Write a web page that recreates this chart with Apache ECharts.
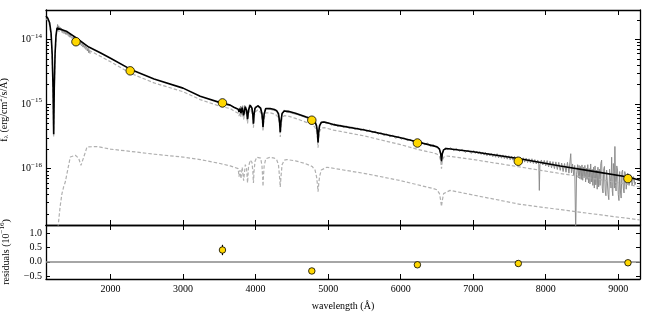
<!DOCTYPE html>
<html>
<head>
<meta charset="utf-8">
<script src="https://cdn.jsdelivr.net/npm/echarts@6/dist/echarts.min.js"></script>
<style>
html, body { margin: 0; padding: 0; background: #fff; }
#chart { width: 650px; height: 321px; }
</style>
</head>
<body>
<div id="chart"></div>
<script>
// wavelength (Angstrom), flux (erg/cm2/s/A)
const specUV = [
  [1262,1.45e-14],[1270,1.7e-14],[1278,1.5e-14],[1286,1.62e-14],[1294,1.42e-14],[1302,1.55e-14],[1310,1.38e-14],
  [1318,1.5e-14],[1326,1.33e-14],[1334,1.45e-14],[1342,1.3e-14],[1350,1.4e-14],[1360,1.25e-14],[1370,1.36e-14],
  [1380,1.2e-14],[1390,1.32e-14],[1400,1.18e-14],[1410,1.28e-14],[1420,1.12e-14],[1430,1.22e-14],[1440,1.08e-14],
  [1450,1.18e-14],[1460,1.05e-14],[1470,1.12e-14],[1480,1.0e-14],[1490,1.08e-14],[1500,9.5e-15],[1510,1.04e-14],
  [1520,9.2e-15],[1530,1.0e-14],[1540,8.8e-15],[1550,9.6e-15],[1560,8.5e-15],[1570,9.2e-15],[1580,8.2e-15],
  [1590,8.9e-15],[1600,7.9e-15],[1610,8.6e-15],[1620,7.6e-15],[1630,8.3e-15],[1640,7.3e-15],[1650,8.0e-15],
  [1660,7.0e-15],[1670,7.6e-15],[1680,6.6e-15],[1690,7.3e-15],[1700,6.2e-15],[1710,6.9e-15],[1718,6.0e-15]
]

const specOpt = [
  [3780,8.8e-16],[3788,7.6e-16],[3795,9.3e-16],[3800,7.0e-16],[3807,8.9e-16],[3815,8.2e-16],[3822,9.4e-16],
  [3830,7.2e-16],[3836,6.6e-16],[3843,8.0e-16],[3850,9.5e-16],[3858,8.6e-16],[3866,9.2e-16],[3875,7.6e-16],
  [3882,6.4e-16],[3889,5.7e-16],[3896,6.6e-16],[3905,8.4e-16],[3915,9.8e-16],[3925,9.2e-16],[3935,9.6e-16],
  [3945,8.6e-16],[3955,7.6e-16],[3963,6.3e-16],[3970,4.9e-16],[3977,6.2e-16],[3986,7.9e-16],[3995,9.1e-16],
  [4010,9.6e-16],[4025,9.1e-16],[4040,9.6e-16],[4055,8.8e-16],[4070,8.8e-16],[4085,7.4e-16],[4095,5.7e-16],
  [4102,4.3e-16],[4110,5.6e-16],[4120,7.3e-16],[4135,8.5e-16],[4150,8.9e-16],[4170,8.3e-16],[4190,8.8e-16],
  [4210,8.2e-16],[4230,8.7e-16],[4250,8.0e-16],[4270,8.4e-16],[4290,7.7e-16],[4305,7.6e-16],[4320,6.6e-16],
  [4330,5.3e-16],[4340,3.7e-16],[4350,5.5e-16],[4360,6.8e-16],[4370,7.2e-16],[4395,8.1e-16],[4420,7.5e-16],
  [4445,8.0e-16],[4470,7.4e-16],[4495,7.8e-16],[4520,7.1e-16],[4545,7.5e-16],[4570,6.9e-16],[4595,7.3e-16],
  [4620,6.6e-16],[4645,6.9e-16],[4670,6.3e-16],[4695,6.6e-16],[4720,6.0e-16],[4745,6.3e-16],[4770,5.7e-16],
  [4795,5.9e-16],[4820,5.1e-16],[4840,4.5e-16],[4852,3.6e-16],[4861,2.6e-16],[4870,3.8e-16],[4882,4.7e-16],
  [4905,5.0e-16],[4930,5.4e-16],[4970,5.0e-16],[5010,5.1e-16],[5050,4.7e-16],[5090,4.95e-16],[5130,4.5e-16],
  [5170,4.7e-16],[5210,4.35e-16],[5250,4.55e-16],[5290,4.2e-16],[5330,4.4e-16],[5370,4.05e-16],[5410,4.25e-16],
  [5450,3.9e-16],[5490,4.1e-16],[5530,3.75e-16],[5570,3.95e-16],[5610,3.6e-16],[5650,3.8e-16],[5690,3.4e-16],
  [5730,3.6e-16],[5770,3.25e-16],[5810,3.45e-16],[5850,3.1e-16],[5890,3.3e-16],[5930,2.95e-16],[5970,3.15e-16],
  [6010,2.85e-16],[6050,3.0e-16],[6090,2.7e-16],[6130,2.85e-16],[6170,2.6e-16],[6210,2.75e-16],[6250,2.5e-16],
  [6290,2.6e-16],[6330,2.35e-16],[6370,2.5e-16],[6410,2.2e-16],[6450,2.35e-16],[6490,2.12e-16],[6520,2.15e-16],
  [6540,1.9e-16],[6552,1.65e-16],[6563,1.25e-16],[6574,1.7e-16],[6590,1.9e-16],[6615,2.1e-16],[6650,1.98e-16],
  [6690,2.1e-16],[6730,1.9e-16],[6770,2.05e-16],[6810,1.85e-16],[6850,1.98e-16],[6890,1.78e-16],[6930,1.92e-16],
  [6970,1.72e-16],[7010,1.9e-16],[7030,1.72e-16],[7050,1.86e-16],[7070,1.7e-16],[7090,1.84e-16],[7110,1.66e-16],
  [7130,1.8e-16],[7150,1.62e-16],[7170,1.78e-16],[7190,1.58e-16],[7210,1.74e-16],[7230,1.57e-16],[7250,1.72e-16],
  [7270,1.53e-16],[7290,1.69e-16],[7310,1.5e-16],[7330,1.7e-16],[7350,1.47e-16],[7370,1.64e-16],[7390,1.45e-16],
  [7410,1.63e-16],[7430,1.43e-16],[7450,1.6e-16],[7470,1.4e-16],[7490,1.58e-16],[7510,1.37e-16],[7530,1.56e-16],
  [7550,1.35e-16],[7570,1.55e-16],[7590,1.33e-16],[7610,1.52e-16],[7630,1.3e-16],[7650,1.5e-16],[7670,1.28e-16],
  [7690,1.47e-16],[7710,1.26e-16],[7730,1.46e-16],[7750,1.24e-16],[7770,1.42e-16],[7790,1.22e-16],[7810,1.42e-16],
  [7830,1.2e-16],[7850,1.38e-16],[7870,1.18e-16],[7890,1.36e-16],[7905,1.15e-16],[7912,4.6e-17],[7920,1.15e-16],
  [7940,1.36e-16],[7960,1.14e-16],[7980,1.34e-16],[8000,1.1e-16],[8020,1.33e-16],[8040,1.06e-16],[8060,1.3e-16],
  [8080,1.03e-16],[8100,1.28e-16],[8120,1.0e-16],[8140,1.27e-16],[8160,9.7e-17],[8180,1.25e-16],[8200,9.4e-17],
  [8220,1.22e-16],[8240,9.0e-17],[8260,1.2e-16],[8280,8.8e-17],[8300,1.25e-16],[8320,8.5e-17],[8335,1.3e-16],
  [8345,1.7e-16],[8355,8.6e-17],[8370,1.18e-16],[8385,8.0e-17],[8400,1.12e-16],[8413,1.0e-17],[8425,8.2e-17],
  [8440,1.15e-16],[8450,7.2e-17],[8460,1.12e-16],[8470,7.0e-17],[8480,1.08e-16],[8490,6.8e-17],[8500,1.14e-16],
  [8510,6.6e-17],[8520,1.05e-16],[8530,7.2e-17],[8540,1.12e-16],[8550,6.2e-17],[8560,1.02e-16],[8570,6.8e-17],
  [8580,1.15e-16],[8590,6.0e-17],[8600,1.0e-16],[8610,5.8e-17],[8620,1.18e-16],[8630,6.2e-17],[8640,9.8e-17],
  [8650,5.5e-17],[8660,1.05e-16],[8670,5.0e-17],[8680,1.1e-16],[8690,5.6e-17],[8700,9.5e-17],[8710,4.8e-17],
  [8720,1.05e-16],[8730,5.2e-17],[8740,9.8e-17],[8750,5.5e-17],[8760,1.2e-16],[8771,1.35e-16],[8780,5.0e-17],
  [8790,4.2e-17],[8800,1.0e-16],[8810,1.08e-16],[8820,4.5e-17],[8830,3.8e-17],[8840,9.5e-17],[8850,9.0e-17],
  [8860,4.0e-17],[8870,3.3e-17],[8880,9.8e-17],[8890,1.05e-16],[8900,5.0e-17],[8909,1.5e-16],[8918,4.5e-17],
  [8925,3.8e-17],[8932,1.2e-16],[8940,9.0e-17],[8947,5.0e-17],[8954,2.2e-16],[8962,5.5e-17],[8970,4.5e-17],
  [8980,1.1e-16],[8990,9.5e-17],[9000,4.0e-17],[9010,3.2e-17],[9020,9.0e-17],[9030,4.5e-17],[9040,3.5e-17],
  [9050,8.8e-17],[9060,9.5e-17],[9070,5.0e-17],[9080,4.2e-17],[9090,9.0e-17],[9100,8.0e-17],[9110,4.8e-17],
  [9120,5.0e-17],[9130,8.5e-17],[9140,7.8e-17],[9150,5.5e-17],[9160,5.2e-17],[9170,8.0e-17],[9180,7.2e-17],
  [9190,5.5e-17],[9200,6.0e-17],[9210,7.5e-17],[9220,6.8e-17],[9230,5.6e-17],[9240,6.2e-17]
]

// total model (black)
const modelTotal = [
  [1110,2.3e-14],[1135,2.12e-14],[1160,1.8e-14],[1180,1.25e-14],[1195,6.0e-15],[1207,1.8e-15],[1216,3.4e-16],
  [1224,1.8e-15],[1235,6.0e-15],[1248,1.15e-14],[1262,1.5e-14],[1278,1.6e-14],[1400,1.32e-14],[1523,1.06e-14],
  [1700,7.6e-15],[1858,6.2e-15],[2000,5.1e-15],[2271,3.46e-15],[2600,2.43e-15],[3000,1.76e-15],[3236,1.32e-15],
  [3511,1.05e-15],[3650,9.6e-16],[3700,8.9e-16],[3760,8.3e-16],[3771,7.5e-16],[3785,8.5e-16],[3798,7.2e-16],
  [3815,8.8e-16],[3835,6.7e-16],[3858,9.1e-16],[3875,8.0e-16],[3889,5.8e-16],[3902,8.0e-16],[3925,9.6e-16],
  [3950,8.6e-16],[3962,6.8e-16],[3970,4.95e-16],[3978,6.8e-16],[3992,8.6e-16],[4030,9.4e-16],[4070,8.6e-16],
  [4088,7.0e-16],[4097,5.5e-16],[4102,4.4e-16],[4108,5.5e-16],[4118,7.0e-16],[4140,8.5e-16],[4200,8.5e-16],
  [4260,8.2e-16],[4290,7.9e-16],[4315,7.1e-16],[4330,5.4e-16],[4340,3.65e-16],[4350,5.4e-16],[4365,7.1e-16],
  [4395,7.8e-16],[4450,7.7e-16],[4550,7.2e-16],[4700,6.3e-16],[4780,5.9e-16],[4820,5.3e-16],[4840,4.6e-16],
  [4852,3.7e-16],[4861,2.55e-16],[4870,3.7e-16],[4882,4.6e-16],[4905,5.2e-16],[4950,5.25e-16],[5073,4.8e-16],
  [5500,3.95e-16],[6000,3.0e-16],[6222,2.6e-16],[6451,2.25e-16],[6500,2.18e-16],[6535,2.0e-16],[6552,1.7e-16],
  [6563,1.3e-16],[6574,1.7e-16],[6592,1.95e-16],[6630,2.05e-16],[7000,1.82e-16],[7622,1.43e-16],[8200,1.1e-16],
  [8700,8.9e-17],[9134,7.4e-17],[9300,6.6e-17]
]

// hot component (upper dashed)
const modelHot = [
  [1110,2.1e-14],[1135,1.95e-14],[1160,1.66e-14],[1180,1.15e-14],[1195,5.5e-15],[1207,1.6e-15],[1216,3.1e-16],
  [1224,1.6e-15],[1235,5.5e-15],[1248,1.05e-14],[1262,1.38e-14],[1278,1.47e-14],[1400,1.2e-14],[1523,9.6e-15],
  [1700,6.8e-15],[1858,5.5e-15],[2000,4.5e-15],[2271,3.0e-15],[2600,2.12e-15],[3000,1.55e-15],[3236,1.17e-15],
  [3511,9.2e-16],[3650,8.5e-16],[3700,7.8e-16],[3760,7.2e-16],[3771,6.5e-16],[3785,7.4e-16],[3798,6.3e-16],
  [3815,7.6e-16],[3835,5.8e-16],[3858,7.9e-16],[3875,7.0e-16],[3889,5.0e-16],[3902,7.0e-16],[3925,8.3e-16],
  [3950,7.5e-16],[3962,5.9e-16],[3970,4.3e-16],[3978,5.9e-16],[3992,7.5e-16],[4030,8.1e-16],[4070,7.4e-16],
  [4088,6.0e-16],[4097,4.7e-16],[4102,3.8e-16],[4108,4.7e-16],[4118,6.0e-16],[4140,7.3e-16],[4200,7.3e-16],
  [4260,7.0e-16],[4290,6.7e-16],[4315,6.0e-16],[4330,4.6e-16],[4340,3.1e-16],[4350,4.6e-16],[4365,6.0e-16],
  [4395,6.6e-16],[4450,6.5e-16],[4550,6.0e-16],[4700,5.2e-16],[4780,4.85e-16],[4820,4.35e-16],[4840,3.75e-16],
  [4852,3.0e-16],[4861,2.1e-16],[4870,3.0e-16],[4882,3.75e-16],[4905,4.25e-16],[4950,4.3e-16],[5073,3.95e-16],
  [5500,3.2e-16],[6000,2.35e-16],[6222,2.0e-16],[6451,1.75e-16],[6500,1.68e-16],[6535,1.53e-16],[6552,1.3e-16],
  [6563,1.0e-16],[6574,1.3e-16],[6592,1.5e-16],[6630,1.57e-16],[7000,1.38e-16],[7622,1.07e-16],[8200,8.4e-17],
  [8700,6.9e-17],[9134,5.7e-17],[9300,5.2e-17]
]

// cool component (lower dashed)
const modelCool = [
  [1268,1.0e-17],[1283,1.5e-17],[1305,2.6e-17],[1330,4.1e-17],[1355,5.3e-17],[1376,6.2e-17],[1408,9.4e-17],
  [1445,1.51e-16],[1514,1.61e-16],[1560,1.45e-16],[1592,1.12e-16],[1630,1.5e-16],[1675,2.16e-16],[1813,2.2e-16],
  [2000,2.0e-16],[2271,1.85e-16],[2600,1.67e-16],[3000,1.51e-16],[3236,1.38e-16],[3511,1.2e-16],[3650,1.1e-16],
  [3760,1.0e-16],[3771,7.5e-17],[3785,9.5e-17],[3798,7.0e-17],[3815,1.05e-16],[3835,6.5e-17],[3858,1.15e-16],
  [3875,1.0e-16],[3889,6.0e-17],[3902,1.05e-16],[3925,1.35e-16],[3950,1.25e-16],[3962,9.0e-17],[3970,6.0e-17],
  [3978,9.0e-17],[3992,1.3e-16],[4017,1.5e-16],[4070,1.45e-16],[4088,1.1e-16],[4097,7.5e-17],[4102,5.3e-17],
  [4108,7.5e-17],[4118,1.1e-16],[4140,1.42e-16],[4200,1.5e-16],[4260,1.45e-16],[4290,1.38e-16],[4315,1.15e-16],
  [4330,7.5e-17],[4340,5.2e-17],[4350,7.5e-17],[4365,1.15e-16],[4395,1.35e-16],[4430,1.38e-16],[4550,1.32e-16],
  [4680,1.2e-16],[4780,1.08e-16],[4820,9.5e-17],[4840,7.5e-17],[4852,5.8e-17],[4861,4.4e-17],[4870,5.8e-17],
  [4882,7.5e-17],[4905,9.5e-17],[4982,1.05e-16],[5533,8.3e-17],[6000,6.5e-17],[6268,5.5e-17],[6451,4.9e-17],
  [6500,4.7e-17],[6535,4.1e-17],[6552,3.2e-17],[6563,2.6e-17],[6574,3.2e-17],[6592,4.1e-17],[6681,4.6e-17],
  [7000,3.9e-17],[7646,2.8e-17],[8565,2.05e-17],[9254,1.63e-17],[9300,1.6e-17]
]

// photometry
const photLam = [1523, 2271, 3543, 4775, 6231, 7622, 9134]
const photFlux = [9.2e-15, 3.26e-15, 1.04e-15, 5.61e-16, 2.49e-16, 1.30e-16, 7.0e-17]

// residuals (1e-16)
const residLam = [3543, 4775, 6231, 7622, 9134]
const resid = [0.41, -0.32, -0.105, -0.06, -0.035]
const residErr = [0.18, 0.02, 0.02, 0.02, 0.02]

const xTicks = [2000, 3000, 4000, 5000, 6000, 7000, 8000, 9000]
const yMajor = [1e-16, 1e-15, 1e-14]
const resTicks = [-0.5, 0, 0.5, 1.0]

const yMinor = []
for (let e = -17; e <= -14; e++) {
  for (let m = 2; m <= 9; m++) yMinor.push(m * Math.pow(10, e))
}

const FONT = 'Liberation Serif'
const X_MIN = 1110, X_MAX = 9300
const Y_MIN = 1.34e-17, Y_MAX = 2.85e-14
const R_MIN = -0.6, R_MAX = 1.28

const myChart = echarts.init(document.getElementById('chart'))

function xAx(grid, pos, labels) {
  return {
    type: 'value', gridIndex: grid, position: pos, min: X_MIN, max: X_MAX,
    axisLine: { show: true, onZero: false, lineStyle: { color: '#000', width: 1.3 } },
    axisTick: { show: true, inside: true, length: 5, customValues: xTicks, lineStyle: { color: '#000', width: 1 } },
    axisLabel: labels
      ? { show: true, customValues: xTicks, margin: 5, color: '#000', fontFamily: FONT, fontSize: 10,
          formatter: v => String(v) }
      : { show: false },
    splitLine: { show: false }
  }
}

function logAx(pos, ticks, len, line, labels) {
  return {
    type: 'log', gridIndex: 0, position: pos, min: Y_MIN, max: Y_MAX, logBase: 10,
    axisLine: { show: line, onZero: false, lineStyle: { color: '#000', width: 1.3 } },
    axisTick: { show: true, inside: true, length: len, customValues: ticks, lineStyle: { color: '#000', width: 1 } },
    axisLabel: labels
      ? {
          show: true, customValues: yMajor, margin: 4, color: '#000', fontFamily: FONT,
          formatter: v => '{a|10}{b|−' + Math.abs(Math.round(Math.log10(v))) + '}',
          rich: {
            a: { fontSize: 10, fontFamily: FONT, color: '#000' },
            b: { fontSize: 7, fontFamily: FONT, color: '#000', padding: [0, 0, 7, 0] }
          }
        }
      : { show: false },
    splitLine: { show: false }
  }
}

function resAx(pos, labels) {
  return {
    type: 'value', gridIndex: 1, position: pos, min: R_MIN, max: R_MAX,
    axisLine: { show: true, onZero: false, lineStyle: { color: '#000', width: 1.3 } },
    axisTick: { show: true, inside: true, length: 4, customValues: resTicks, lineStyle: { color: '#000', width: 1 } },
    axisLabel: labels
      ? {
          show: true, customValues: resTicks, margin: 4, color: '#000', fontFamily: FONT, fontSize: 10,
          formatter: v => (v < 0 ? '−' : '') + Math.abs(v).toFixed(1)
        }
      : { show: false },
    splitLine: { show: false }
  }
}

const yFlux = logAx('left', yMajor, 5, true, true)
yFlux.name = '{t|f}{sub|λ}{t| (erg/cm}{sup|2}{t|/s/Å)}'
yFlux.nameLocation = 'middle'
yFlux.nameGap = 33
yFlux.nameTextStyle = {
  color: '#000', fontFamily: FONT, fontSize: 10, padding: [0, 0, 0, 15],
  rich: {
    t: { fontSize: 10, fontFamily: FONT, color: '#000' },
    sub: { fontSize: 7, fontFamily: FONT, color: '#000', padding: [5, 0, 0, 0] },
    sup: { fontSize: 7, fontFamily: FONT, color: '#000', padding: [0, 0, 7, 0] }
  }
}

const yRes = resAx('left', true)
yRes.name = '{t|residuals (10}{sup|−16}{t|)}'
yRes.nameLocation = 'middle'
yRes.nameGap = 33
yRes.nameTextStyle = {
  color: '#000', fontFamily: FONT, fontSize: 10,
  rich: {
    t: { fontSize: 10, fontFamily: FONT, color: '#000' },
    sup: { fontSize: 7, fontFamily: FONT, color: '#000', padding: [0, 0, 7, 0] }
  }
}

const xBottom = xAx(1, 'bottom', true)
xBottom.name = 'wavelength (Å)'
xBottom.nameLocation = 'middle'
xBottom.nameGap = 22
xBottom.nameTextStyle = { color: '#000', fontFamily: FONT, fontSize: 10 }

const option = {
  animation: false,
  backgroundColor: '#fff',
  grid: [
    { left: 46, right: 10, top: 10, height: 215, outerBoundsMode: 'none' },
    { left: 46, right: 10, top: 225, height: 54, outerBoundsMode: 'none' }
  ],
  xAxis: [xAx(0, 'bottom', false), xAx(0, 'top', false), xBottom, xAx(1, 'top', false)],
  yAxis: [
    yFlux,
    logAx('left', yMinor, 3, false, false),
    logAx('right', yMajor, 5, true, false),
    logAx('right', yMinor, 3, false, false),
    yRes,
    resAx('right', false)
  ],
  series: [
    {
      name: 'spectrum UV', type: 'line', xAxisIndex: 0, yAxisIndex: 0, data: specUV,
      symbol: 'none', lineStyle: { color: '#8c8c8c', width: 1 }, z: 1
    },
    {
      name: 'spectrum optical', type: 'line', xAxisIndex: 0, yAxisIndex: 0, data: specOpt,
      symbol: 'none', lineStyle: { color: '#8c8c8c', width: 1 }, z: 1
    },
    {
      name: 'hot', type: 'line', xAxisIndex: 0, yAxisIndex: 0, data: modelHot,
      symbol: 'none', lineStyle: { color: '#b0b0b0', width: 1.2, type: [3.5, 2] }, z: 2
    },
    {
      name: 'cool', type: 'line', xAxisIndex: 0, yAxisIndex: 0, data: modelCool,
      symbol: 'none', lineStyle: { color: '#b0b0b0', width: 1.2, type: [3.5, 2] }, z: 2
    },
    {
      name: 'model', type: 'line', xAxisIndex: 0, yAxisIndex: 0, data: modelTotal,
      symbol: 'none', lineStyle: { color: '#000', width: 1.6 }, z: 3
    },
    {
      name: 'photometry', type: 'scatter', xAxisIndex: 0, yAxisIndex: 0,
      data: photLam.map((l, i) => [l, photFlux[i]]),
      symbolSize: 8.5, itemStyle: { color: '#ffd700', borderColor: '#000', borderWidth: 0.8, opacity: 1 }, z: 5
    },
    {
      name: 'errors', type: 'custom', xAxisIndex: 2, yAxisIndex: 4,
      data: residLam.map((l, i) => [l, resid[i] - residErr[i], resid[i] + residErr[i]]),
      renderItem: (params, api) => {
        const lo = api.coord([api.value(0), api.value(1)])
        const hi = api.coord([api.value(0), api.value(2)])
        return {
          type: 'line',
          shape: { x1: lo[0], y1: lo[1], x2: hi[0], y2: hi[1] },
          style: { stroke: '#000', lineWidth: 1.2 }
        }
      },
      z: 4
    },
    {
      name: 'residuals', type: 'scatter', xAxisIndex: 2, yAxisIndex: 4,
      data: residLam.map((l, i) => [l, resid[i]]),
      symbolSize: 6.5, itemStyle: { color: '#ffd700', borderColor: '#000', borderWidth: 0.8, opacity: 1 }, z: 5,
      markLine: {
        silent: true, symbol: 'none', label: { show: false },
        lineStyle: { color: '#888', width: 1.5, type: 'solid' },
        data: [{ yAxis: 0 }]
      }
    }
  ]
}

myChart.setOption(option)
</script>
</body>
</html>
